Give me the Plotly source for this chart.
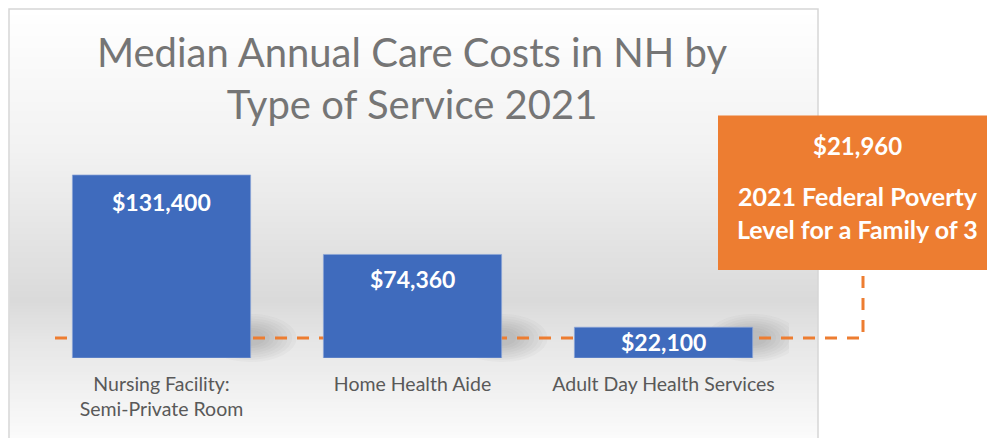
import plotly.graph_objects as go
import numpy as np

# ---- data ----
categories = ["Nursing Facility:<br>Semi-Private Room", "Home Health Aide", "Adult Day Health Services"]
costs = [131400, 74360, 22100]
cost_labels = ["$131,400", "$74,360", "$22,100"]
poverty_level = 21960
poverty_label = "$21,960"
poverty_lines = ["2021 Federal Poverty", "Level for a Family of 3"]
title_text = "Median Annual Care Costs in NH by<br>Type of Service 2021"

# ---- geometry ----
W, H = 987, 438
L, R, T, B = 36, 198, 163, 80
PW, PH = W - L - R, H - T - B
YMAX = 140000

def px(X):
    return (X - L) / PW

def py(Y):
    return (H - B - Y) / PH

FONT = "Lato"
BLUE = "#3F6BBD"
ORANGE = "#ED7D31"

fig = go.Figure()
fig.add_trace(go.Bar(
    x=list(range(len(categories))), y=costs,
    width=0.71,
    marker=dict(color=BLUE, line=dict(color="rgba(140,165,215,0.7)", width=1)),
    hoverinfo="skip",
))

shapes = []
# background gradient panel
def gray(Y):
    pts_y = [9, 150, 300, 345, 438]
    pts_v = [255, 242, 218, 231, 251]
    return int(round(np.interp(Y, pts_y, pts_v)))

for Y in range(9, 440, 3):
    v = gray(Y + 1.5)
    shapes.append(dict(type="rect", xref="paper", yref="paper",
                       x0=px(9.5), x1=px(818), y0=py(Y), y1=py(Y + 3),
                       fillcolor=f"rgb({v},{v},{v})", line=dict(width=0), layer="below"))
shapes.append(dict(type="rect", xref="paper", yref="paper",
                   x0=px(9), x1=px(818), y0=py(9), y1=py(446),
                   line=dict(color="#d6d6d6", width=1.5), fillcolor="rgba(0,0,0,0)", layer="below"))

# bar shadows (soft), anchored at each bar's right edge
bar_w = 0.71
for i, c in enumerate(costs):
    xr = i + bar_w / 2
    for k in range(8):
        rx = (46 - 4.5 * k) / PW * 3
        ry = 24 - 2.3 * k
        shapes.append(dict(type="circle", xref="x", yref="paper",
                           x0=xr - rx, x1=xr + rx,
                           y0=py(338 + ry), y1=py(338 - ry),
                           fillcolor="rgba(70,70,70,0.03)", line=dict(width=0), layer="below"))

# dashed connector line (behind bars)
shapes.append(dict(type="path", xref="paper", yref="paper",
                   path=f"M {px(55)},{py(338)} L {px(863)},{py(338)} L {px(863)},{py(270)}",
                   line=dict(color=ORANGE, width=3, dash="12px,10px"), layer="below"))

# orange callout box
shapes.append(dict(type="rect", xref="paper", yref="paper",
                   x0=px(718), x1=px(990), y0=py(115.5), y1=py(270),
                   fillcolor=ORANGE, line=dict(width=0), layer="above"))

annotations = []
label_offsets = [-27, -25, -15]
for i, (c, lab) in enumerate(zip(costs, cost_labels)):
    annotations.append(dict(x=i, y=c, xref="x", yref="y", text=lab, showarrow=False,
                            xanchor="center", yanchor="middle", yshift=label_offsets[i],
                            font=dict(family=FONT, size=23, color="white", weight="bold")))

annotations.append(dict(x=px(858), y=py(145), xref="paper", yref="paper", text=poverty_label,
                        showarrow=False, xanchor="center", yanchor="middle",
                        font=dict(family=FONT, size=24, color="white", weight="bold")))
for line_text, Y in zip(poverty_lines, [196, 229]):
    annotations.append(dict(x=px(858), y=py(Y), xref="paper", yref="paper", text=line_text,
                            showarrow=False, xanchor="center", yanchor="middle",
                            font=dict(family=FONT, size=25, color="white", weight="bold")))

fig.update_layout(
    width=W, height=H,
    margin=dict(l=L, r=R, t=T, b=B, pad=0),
    paper_bgcolor="white", plot_bgcolor="rgba(0,0,0,0)",
    showlegend=False,
    title=dict(text=title_text, x=px(412), xref="paper", xanchor="center",
               y=1 - 67 / H, yref="container", yanchor="middle",
               font=dict(family=FONT, size=40, color="#757575")),
    xaxis=dict(tickmode="array", tickvals=list(range(len(categories))), ticktext=categories,
               range=[-0.5, 2.5], showgrid=False, zeroline=False, showline=False, ticks="",
               tickfont=dict(family=FONT, size=19.5, color="#595959"), ticklabelstandoff=12),
    yaxis=dict(range=[0, YMAX], visible=False),
    shapes=shapes,
    annotations=annotations,
)

fig.write_html("out.html")
